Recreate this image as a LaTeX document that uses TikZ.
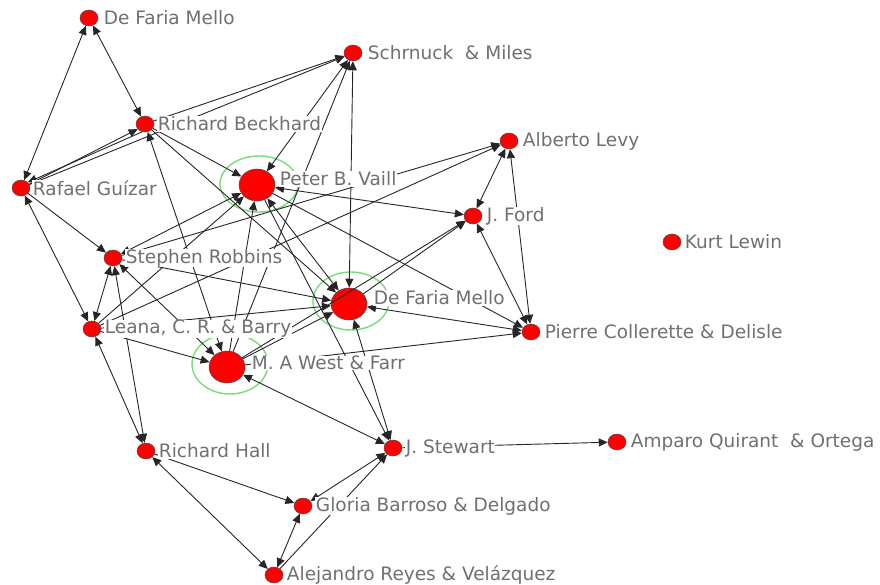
\documentclass[tikz,border=0pt]{standalone}
\usepackage{fontspec}
\setmainfont{DejaVu Sans}
\usepackage{tikz}
\usetikzlibrary{positioning,calc,arrows.meta,shapes.geometric}
\tikzset{>={Triangle[length=9pt,width=8pt]}}
\definecolor{lblgray}{RGB}{112,112,112}
\definecolor{ringgreen}{RGB}{120,220,120}
\tikzset{
  actor/.style={ellipse,draw=black!70,line width=.5pt,fill=red,inner sep=0pt,
    minimum width=18pt,minimum height=16pt},
  hub/.style={actor,minimum width=36pt,minimum height=32pt},
  ring/.style={draw=ringgreen,line width=1.4pt},
  tie/.style={line width=.9pt,draw=black!85},
  lbl/.style={anchor=west,fill=white,inner sep=.5pt,text=lblgray,
    font=\fontsize{18.5}{20}\selectfont}
}
\begin{document}
\begin{tikzpicture}[x=1pt,y=-1pt]
\useasboundingbox (0,0) rectangle (880,585);
\draw[ring] (259,184) ellipse [x radius=39,y radius=28];
\draw[ring] (351,301) ellipse [x radius=38,y radius=29];
\draw[ring] (230,364) ellipse [x radius=38,y radius=30];
\node[actor] (dfma) at (89,18) {};
\node[actor] (sm) at (353,53) {};
\node[actor] (rb) at (145,124) {};
\node[actor] (al) at (509,141) {};
\node[hub] (pv) at (257,185) {};
\node[actor] (rg) at (21,188) {};
\node[actor] (jf) at (473,216) {};
\node[actor] (kl) at (672,242) {};
\node[actor] (sr) at (113,258) {};
\node[hub] (dfmb) at (349,304) {};
\node[actor] (lb) at (92,329) {};
\node[actor] (pc) at (531,332) {};
\node[hub] (mw) at (227,367) {};
\node[actor] (rh) at (146,451) {};
\node[actor] (js) at (393,448) {};
\node[actor] (aq) at (617,442) {};
\node[actor] (gb) at (303,506) {};
\node[actor] (ar) at (274,575) {};
% ties
\draw[tie,<->] (dfma) -- (rg);
\draw[tie,<->] (dfma) -- (rb);
\draw[tie,->] (rg.25) -- (rb.215);
\draw[tie,->] (rb.250) -- (rg.40);
\draw[tie,->] (rg) -- (sm);
\draw[tie,->] (rb) -- (sm);
\draw[tie,->] (rb) -- (pv);
\draw[tie,->] (rb) -- (dfmb);
\draw[tie,<->] (rb) -- (mw);
\draw[tie,<->] (sm) -- (pv);
\draw[tie,->] (mw) -- (sm);
\draw[tie,<->] (sm) -- (dfmb);
\draw[tie,<->] (pv) -- (jf);
\draw[tie,->] (pv) -- (pc);
\draw[tie,->] (pv) -- (js);
\draw[tie,<->] (pv) -- (dfmb);
\draw[tie,<->] (sr) -- (pv);
\draw[tie,->] (sr) -- (al);
\draw[tie,->] (lb) -- (al);
\draw[tie,->] (lb) -- (pv);
\draw[tie,->] (mw) -- (pv);
\draw[tie,->] (rg) -- (sr);
\draw[tie,<->] (rg) -- (lb);
\draw[tie,<->] (sr) -- (lb);
\draw[tie,<->] (sr) -- (rh);
\draw[tie,<->] (lb) -- (rh);
\draw[tie,->] (lb) -- (mw);
\draw[tie,<->] (sr) -- (mw);
\draw[tie,->] (sr) -- (dfmb);
\draw[tie,->] (lb) -- (dfmb);
\draw[tie,->] (mw) -- (dfmb);
\draw[tie,<->] (dfmb) -- (pc);
\draw[tie,->] (dfmb) -- (jf);
\draw[tie,->] (mw) -- (jf);
\draw[tie,->] (mw) -- (pc);
\draw[tie,<->] (dfmb) -- (js);
\draw[tie,<->] (mw) -- (js);
\draw[tie,<->] (al) -- (jf);
\draw[tie,<->] (al) -- (pc);
\draw[tie,<->] (jf) -- (pc);
\draw[tie,->] (js) -- (aq);
\draw[tie,->] (rh) -- (gb);
\draw[tie,<->] (rh) -- (ar);
\draw[tie,<->] (gb) -- (ar);
\draw[tie,->] (ar) -- (js);
\draw[tie,<->] (gb) -- (js);
% names
\node[lbl] (dfmal) at ([xshift=5pt]dfma.east) {De Faria Mello};
\node[lbl] (sml) at ([xshift=5pt]sm.east) {Schrnuck \ \& Miles};
\node[lbl] (rbl) at ([xshift=3pt]rb.east) {Richard Beckhard};
\node[lbl] (all) at ([xshift=4pt]al.east) {Alberto Levy};
\node[lbl] (pvl) at ([xshift=4pt,yshift=6pt]pv.east) {Peter B. Vaill};
\node[lbl] (rgl) at ([xshift=2pt]rg.east) {Rafael Guízar};
\node[lbl] (jfl) at ([xshift=4pt]jf.east) {J. Ford};
\node[lbl] (kll) at ([xshift=3pt]kl.east) {Kurt Lewin};
\node[lbl] (srl) at ([xshift=3pt]sr.east) {Stephen Robbins};
\node[lbl] (dfmbl) at ([xshift=6pt,yshift=6pt]dfmb.east) {De Faria Mello};
\node[lbl] (lbl) at ([xshift=3pt]lb.east) {Leana, C. R. \& Barry};
\node[lbl] (pcl) at ([xshift=4pt]pc.east) {Pierre Collerette \& Delisle};
\node[lbl] (mwl) at ([xshift=6pt,yshift=4pt]mw.east) {M. A West \& Farr};
\node[lbl] (rhl) at ([xshift=3pt]rh.east) {Richard Hall};
\node[lbl] (jsl) at ([xshift=3pt]js.east) {J. Stewart};
\node[lbl] (aql) at ([xshift=4pt]aq.east) {Amparo Quirant \ \& Ortega};
\node[lbl] (gbl) at ([xshift=3pt]gb.east) {Gloria Barroso \& Delgado};
\node[lbl] (arl) at ([xshift=3pt]ar.east) {Alejandro Reyes \& Velázquez};
\end{tikzpicture}
\end{document}
